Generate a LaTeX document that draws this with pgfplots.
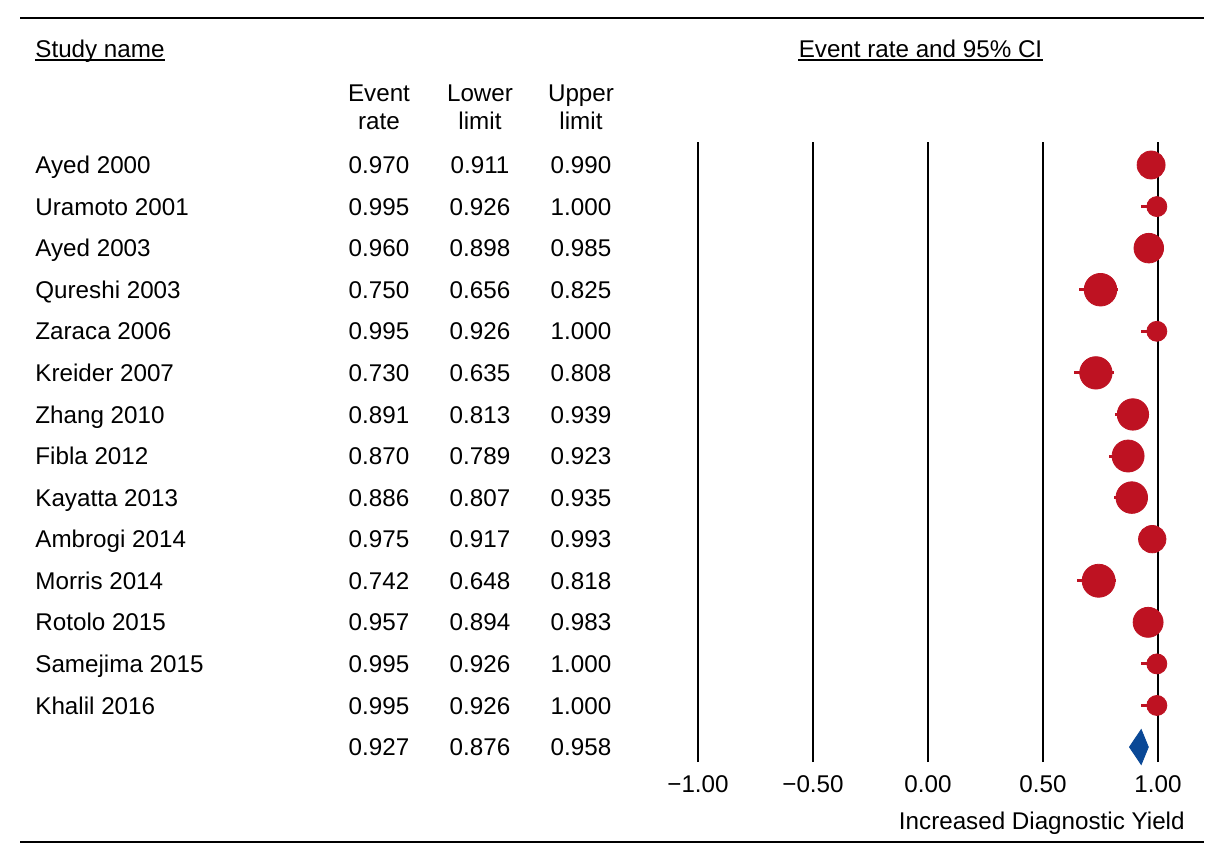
\documentclass[border=0pt]{standalone}
\usepackage{pgfplots}
\usepackage{pgfplotstable}
\pgfplotsset{compat=1.18}
\usepackage{fontspec}
\setmainfont{Liberation Sans}
\definecolor{fred}{RGB}{190,18,34}
\definecolor{fblue}{RGB}{10,72,150}
\pgfplotstableread{
y er lo hi r
-1 0.970 0.911 0.990 7.0
-2 0.995 0.926 1.000 5.0
-3 0.960 0.898 0.985 7.4
-4 0.750 0.656 0.825 8.15
-5 0.995 0.926 1.000 5.0
-6 0.730 0.635 0.808 8.1
-7 0.891 0.813 0.939 7.85
-8 0.870 0.789 0.923 8.0
-9 0.886 0.807 0.935 7.9
-10 0.975 0.917 0.993 6.85
-11 0.742 0.648 0.818 8.25
-12 0.957 0.894 0.983 7.5
-13 0.995 0.926 1.000 5.0
-14 0.995 0.926 1.000 5.0
}\studies
\begin{document}
\fontsize{12.1}{14}\selectfont
\begin{tikzpicture}
\begin{scope}[x=0.5pt,y=-0.5pt]
\draw[line width=0.8pt] (20,18) -- (1204,18);
\draw[line width=0.8pt] (20,842) -- (1204,842);
\node[anchor=base west,inner sep=0] at (35,57) {Study name};
\draw[line width=0.6pt] (35,60) -- (165,60);
\node[anchor=base,inner sep=0] at (920.5,57) {Event rate and 95\% CI};
\draw[line width=0.6pt] (798,60) -- (1043,60);
\node[anchor=base,inner sep=0] at (379,101) {Event};
\node[anchor=base,inner sep=0] at (379,129) {rate};
\node[anchor=base,inner sep=0] at (480,101) {Lower};
\node[anchor=base,inner sep=0] at (480,129) {limit};
\node[anchor=base,inner sep=0] at (581,101) {Upper};
\node[anchor=base,inner sep=0] at (581,129) {limit};
\foreach \n/\e/\l/\u [count=\i from 0] in {Ayed 2000/0.970/0.911/0.990,Uramoto 2001/0.995/0.926/1.000,Ayed 2003/0.960/0.898/0.985,Qureshi 2003/0.750/0.656/0.825,Zaraca 2006/0.995/0.926/1.000,Kreider 2007/0.730/0.635/0.808,Zhang 2010/0.891/0.813/0.939,Fibla 2012/0.870/0.789/0.923,Kayatta 2013/0.886/0.807/0.935,Ambrogi 2014/0.975/0.917/0.993,Morris 2014/0.742/0.648/0.818,Rotolo 2015/0.957/0.894/0.983,Samejima 2015/0.995/0.926/1.000,Khalil 2016/0.995/0.926/1.000, /0.927/0.876/0.958} {
  \pgfmathsetmacro{\yy}{165+\i*41.57+8.6}
  \node[anchor=base west,inner sep=0] at (35,\yy) {\n};
  \node[anchor=base,inner sep=0] at (379,\yy) {\e};
  \node[anchor=base,inner sep=0] at (480,\yy) {\l};
  \node[anchor=base,inner sep=0] at (581,\yy) {\u};
}
\node[anchor=base east,inner sep=0] at (1185,829) {Increased Diagnostic Yield};
\end{scope}
\begin{axis}[at={(349pt,-71pt)}, anchor=north west, scale only axis,
  width=230pt, height=310pt, xmin=-1, xmax=1, ymin=-15.36, ymax=-0.447,
  clip=false, axis line style={draw=none}, tick style={draw=none},
  ytick=\empty, xtick={-1,-0.5,0,0.5,1},
  xticklabels={−1.00,−0.50,0.00,0.50,1.00},
  xmajorgrids, grid style={black, line width=0.75pt},
  xticklabel style={anchor=base, yshift=-15pt, inner sep=0pt}]
\addplot[only marks, mark=none, error bars/.cd, x dir=both, x explicit,
  error mark=none, error bar style={line width=1.5pt, fred}]
  table[x=er, y=y, x error minus expr=\thisrow{er}-\thisrow{lo}, x error plus expr=\thisrow{hi}-\thisrow{er}] {\studies};
\addplot[scatter, only marks, mark=*, scatter/use mapped color={draw=fred, fill=fred},
  visualization depends on={\thisrow{r} \as \rr},
  scatter/@pre marker code/.append style={/tikz/mark size=\rr pt}]
  table[x=er, y=y] {\studies};
\addplot[fill=fblue, draw=fblue] coordinates {(0.876,-15) (0.927,-14.58) (0.958,-15) (0.927,-15.42)} -- cycle;
\end{axis}
\pgfresetboundingbox
\useasboundingbox (0,0) rectangle (611.5pt,-432pt);
\end{tikzpicture}
\end{document}
